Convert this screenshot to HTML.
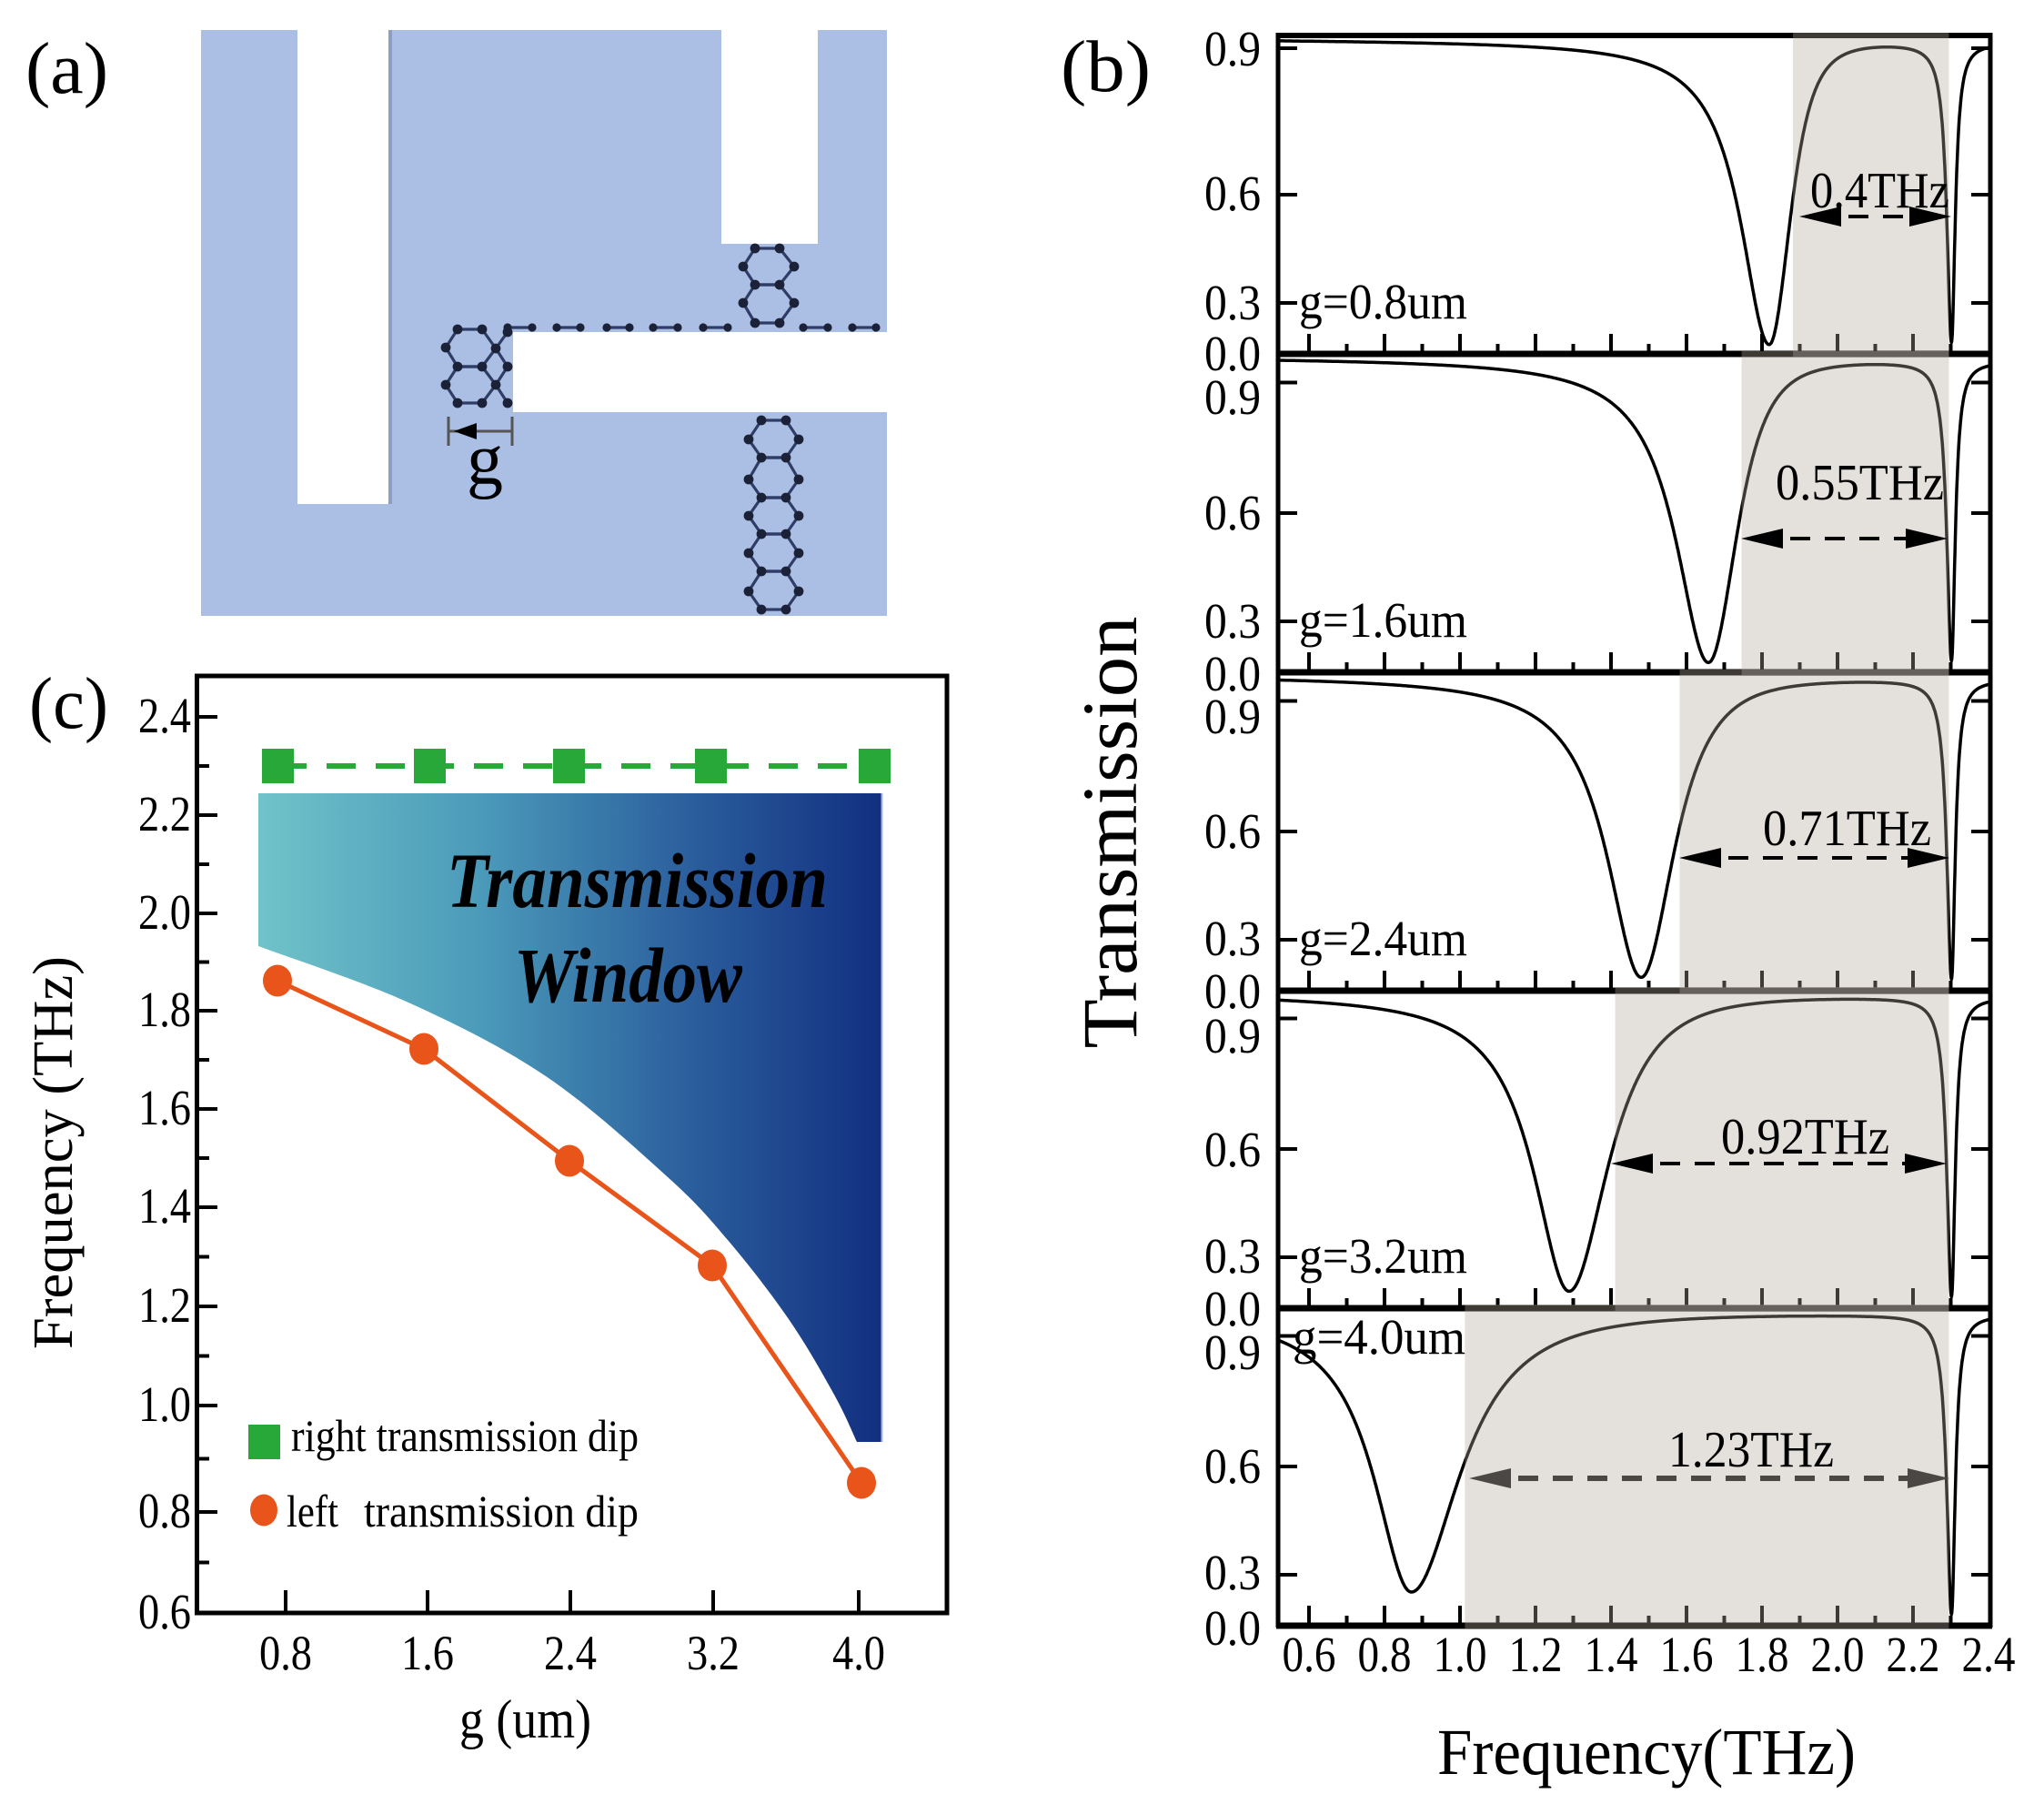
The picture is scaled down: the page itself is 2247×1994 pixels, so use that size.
<!DOCTYPE html>
<html><head><meta charset="utf-8">
<style>
html,body{margin:0;padding:0;background:#fff;}
svg{display:block;}
text{font-family:"Liberation Serif","Times New Roman",serif;fill:#000;}
</style></head>
<body>
<svg id="s" xmlns="http://www.w3.org/2000/svg" width="2247" height="1994" viewBox="0 0 2247 1994">
<defs>
<linearGradient id="tw" x1="284" y1="0" x2="970" y2="0" gradientUnits="userSpaceOnUse">
 <stop offset="0" stop-color="#70c3c9"/>
 <stop offset="0.35" stop-color="#4b9bba"/>
 <stop offset="0.7" stop-color="#2a5d9c"/>
 <stop offset="1" stop-color="#122f80"/>
</linearGradient>
</defs>
<rect x="0" y="0" width="2247" height="1994" fill="#fff"/>

<!-- ===== Panel (a) ===== -->
<rect x="221" y="33" width="754" height="644" fill="#abbfe4"/>
<rect x="327" y="33" width="101" height="521" fill="#fff"/>
<rect x="427" y="33" width="4" height="521" fill="#8e9ec2"/>
<rect x="793" y="33" width="106" height="235" fill="#fff"/>
<rect x="564" y="365" width="411" height="88" fill="#fff"/>
<g id="hex"></g>
<!-- g marker -->
<line x1="493" y1="458" x2="493" y2="490" stroke="#555" stroke-width="3"/>
<line x1="563" y1="458" x2="563" y2="490" stroke="#555" stroke-width="3"/>
<line x1="493" y1="474" x2="563" y2="474" stroke="#555" stroke-width="3"/>
<polygon points="499,474 524,465 524,483" fill="#000"/>
<text x="533" y="532" font-size="80" text-anchor="middle">g</text>
<text x="28" y="102" font-size="80" textLength="91" lengthAdjust="spacingAndGlyphs">(a)</text>

<!-- ===== Panel (b) ===== -->
<text x="1166" y="100" font-size="80" textLength="99" lengthAdjust="spacingAndGlyphs">(b)</text>
<g id="bcurves"></g>
<g id="baxes"></g>
<g id="bshade"></g>
<g id="barrows"></g>

<!-- y tick labels panel b -->
<g font-size="55" text-anchor="end">
<text x="1386" y="72" textLength="62" lengthAdjust="spacingAndGlyphs">0.9</text>
<text x="1386" y="231" textLength="62" lengthAdjust="spacingAndGlyphs">0.6</text>
<text x="1386" y="351" textLength="62" lengthAdjust="spacingAndGlyphs">0.3</text>
<text x="1386" y="407" textLength="62" lengthAdjust="spacingAndGlyphs">0.0</text>

<text x="1386" y="455" textLength="62" lengthAdjust="spacingAndGlyphs">0.9</text>
<text x="1386" y="582" textLength="62" lengthAdjust="spacingAndGlyphs">0.6</text>
<text x="1386" y="701" textLength="62" lengthAdjust="spacingAndGlyphs">0.3</text>
<text x="1386" y="759" textLength="62" lengthAdjust="spacingAndGlyphs">0.0</text>

<text x="1386" y="806" textLength="62" lengthAdjust="spacingAndGlyphs">0.9</text>
<text x="1386" y="932" textLength="62" lengthAdjust="spacingAndGlyphs">0.6</text>
<text x="1386" y="1050" textLength="62" lengthAdjust="spacingAndGlyphs">0.3</text>
<text x="1386" y="1108" textLength="62" lengthAdjust="spacingAndGlyphs">0.0</text>

<text x="1386" y="1157" textLength="62" lengthAdjust="spacingAndGlyphs">0.9</text>
<text x="1386" y="1282" textLength="62" lengthAdjust="spacingAndGlyphs">0.6</text>
<text x="1386" y="1399" textLength="62" lengthAdjust="spacingAndGlyphs">0.3</text>
<text x="1386" y="1457" textLength="62" lengthAdjust="spacingAndGlyphs">0.0</text>

<text x="1386" y="1505" textLength="62" lengthAdjust="spacingAndGlyphs">0.9</text>
<text x="1386" y="1630" textLength="62" lengthAdjust="spacingAndGlyphs">0.6</text>
<text x="1386" y="1747" textLength="62" lengthAdjust="spacingAndGlyphs">0.3</text>
<text x="1386" y="1808" textLength="62" lengthAdjust="spacingAndGlyphs">0.0</text>
</g>

<!-- x tick labels panel b -->
<g font-size="55" text-anchor="middle">
<text x="1439" y="1837" textLength="59" lengthAdjust="spacingAndGlyphs">0.6</text>
<text x="1522" y="1837" textLength="59" lengthAdjust="spacingAndGlyphs">0.8</text>
<text x="1605" y="1837" textLength="59" lengthAdjust="spacingAndGlyphs">1.0</text>
<text x="1688" y="1837" textLength="59" lengthAdjust="spacingAndGlyphs">1.2</text>
<text x="1771" y="1837" textLength="59" lengthAdjust="spacingAndGlyphs">1.4</text>
<text x="1854" y="1837" textLength="59" lengthAdjust="spacingAndGlyphs">1.6</text>
<text x="1937" y="1837" textLength="59" lengthAdjust="spacingAndGlyphs">1.8</text>
<text x="2020" y="1837" textLength="59" lengthAdjust="spacingAndGlyphs">2.0</text>
<text x="2103" y="1837" textLength="59" lengthAdjust="spacingAndGlyphs">2.2</text>
<text x="2186" y="1837" textLength="59" lengthAdjust="spacingAndGlyphs">2.4</text>
</g>

<!-- panel labels -->
<g font-size="55">
<text x="1428" y="350" textLength="185" lengthAdjust="spacingAndGlyphs">g=0.8um</text>
<text x="1428" y="700" textLength="185" lengthAdjust="spacingAndGlyphs">g=1.6um</text>
<text x="1428" y="1050" textLength="185" lengthAdjust="spacingAndGlyphs">g=2.4um</text>
<text x="1428" y="1399" textLength="185" lengthAdjust="spacingAndGlyphs">g=3.2um</text>
<text x="1421" y="1488" textLength="190" lengthAdjust="spacingAndGlyphs">g=4.0um</text>
</g>
<!-- width labels -->
<g font-size="56">
<text x="1990" y="228" textLength="153" lengthAdjust="spacingAndGlyphs">0.4THz</text>
<text x="1952" y="549" textLength="185" lengthAdjust="spacingAndGlyphs">0.55THz</text>
<text x="1938" y="929" textLength="185" lengthAdjust="spacingAndGlyphs">0.71THz</text>
<text x="1892" y="1268" textLength="185" lengthAdjust="spacingAndGlyphs">0.92THz</text>
<text x="1834" y="1612" textLength="182" lengthAdjust="spacingAndGlyphs" fill="#222">1.23THz</text>
</g>
<text x="1580" y="1950" font-size="72" textLength="460" lengthAdjust="spacingAndGlyphs">Frequency(THz)</text>
<text transform="translate(1249,915) rotate(-90)" font-size="86" text-anchor="middle" textLength="475" lengthAdjust="spacingAndGlyphs">Transmission</text>

<!-- ===== Panel (c) ===== -->
<text x="32" y="800" font-size="80" textLength="87" lengthAdjust="spacingAndGlyphs">(c)</text>
<path id="gradshape" d="M284 872 L970 872 L970 1585 L942 1585 Z" fill="url(#tw)"/>
<line x1="969.5" y1="872" x2="969.5" y2="1585" stroke="#a9b6da" stroke-width="2"/>
<text x="491" y="997" font-size="86" font-weight="bold" font-style="italic" textLength="419" lengthAdjust="spacingAndGlyphs">Transmission</text>
<text x="565" y="1101" font-size="86" font-weight="bold" font-style="italic" textLength="251" lengthAdjust="spacingAndGlyphs">Window</text>
<!-- green dashed -->
<line x1="305" y1="842" x2="962" y2="842" stroke="#27a839" stroke-width="6" stroke-dasharray="32 22"/>
<g fill="#27a839">
<rect x="288" y="823" width="35" height="38"/>
<rect x="455" y="823" width="35" height="38"/>
<rect x="608" y="823" width="35" height="38"/>
<rect x="764" y="823" width="35" height="38"/>
<rect x="944" y="823" width="35" height="38"/>
</g>
<polyline points="305,1078 466,1153 626,1276 783,1391 947,1630" fill="none" stroke="#e8541a" stroke-width="5" stroke-linejoin="round"/>
<g fill="#e8541a">
<ellipse cx="305" cy="1078" rx="16" ry="17.5"/>
<ellipse cx="466" cy="1153" rx="16" ry="17.5"/>
<ellipse cx="626" cy="1276" rx="16" ry="17.5"/>
<ellipse cx="783" cy="1391" rx="16" ry="17.5"/>
<ellipse cx="947" cy="1630" rx="16" ry="17.5"/>
</g>
<!-- legend -->
<rect x="273" y="1566" width="35" height="38" fill="#27a839"/>
<text x="320" y="1595" font-size="50" textLength="382" lengthAdjust="spacingAndGlyphs">right transmission dip</text>
<ellipse cx="290" cy="1660" rx="15" ry="17.5" fill="#e8541a"/>
<text x="315" y="1678" font-size="50" textLength="57" lengthAdjust="spacingAndGlyphs">left</text>
<text x="400" y="1678" font-size="50" textLength="302" lengthAdjust="spacingAndGlyphs">transmission dip</text>
<!-- frame c -->
<g id="caxes"></g>
<rect x="216.5" y="743" width="824.5" height="1030" fill="none" stroke="#000" stroke-width="5"/>
<g font-size="55" text-anchor="end">
<text x="210" y="805" textLength="58" lengthAdjust="spacingAndGlyphs">2.4</text>
<text x="210" y="913" textLength="58" lengthAdjust="spacingAndGlyphs">2.2</text>
<text x="210" y="1021" textLength="58" lengthAdjust="spacingAndGlyphs">2.0</text>
<text x="210" y="1128" textLength="58" lengthAdjust="spacingAndGlyphs">1.8</text>
<text x="210" y="1236" textLength="58" lengthAdjust="spacingAndGlyphs">1.6</text>
<text x="210" y="1344" textLength="58" lengthAdjust="spacingAndGlyphs">1.4</text>
<text x="210" y="1453" textLength="58" lengthAdjust="spacingAndGlyphs">1.2</text>
<text x="210" y="1562" textLength="58" lengthAdjust="spacingAndGlyphs">1.0</text>
<text x="210" y="1679" textLength="58" lengthAdjust="spacingAndGlyphs">0.8</text>
<text x="210" y="1790" textLength="58" lengthAdjust="spacingAndGlyphs">0.6</text>
</g>
<g font-size="54" text-anchor="middle">
<text x="314" y="1835" textLength="58" lengthAdjust="spacingAndGlyphs">0.8</text>
<text x="470" y="1835" textLength="58" lengthAdjust="spacingAndGlyphs">1.6</text>
<text x="627" y="1835" textLength="58" lengthAdjust="spacingAndGlyphs">2.4</text>
<text x="784" y="1835" textLength="58" lengthAdjust="spacingAndGlyphs">3.2</text>
<text x="944" y="1835" textLength="58" lengthAdjust="spacingAndGlyphs">4.0</text>
</g>
<text x="505" y="1910" font-size="60" textLength="145" lengthAdjust="spacingAndGlyphs">g (um)</text>
<text transform="translate(79,1267) rotate(-90)" font-size="62" text-anchor="middle" textLength="432" lengthAdjust="spacingAndGlyphs">Frequency (THz)</text>
</svg>

<script>
(function(){
const NS='http://www.w3.org/2000/svg';
function el(tag,a,p){const e=document.createElementNS(NS,tag);for(const k in a)e.setAttribute(k,a[k]);p.appendChild(e);return e;}
function cr(pts){let d='M'+pts[0][0]+' '+pts[0][1];for(let i=0;i<pts.length-1;i++){const p0=pts[i-1]||pts[i],p1=pts[i],p2=pts[i+1],p3=pts[i+2]||p2;const c1=[p1[0]+(p2[0]-p0[0])/6,p1[1]+(p2[1]-p0[1])/6],c2=[p2[0]-(p3[0]-p1[0])/6,p2[1]-(p3[1]-p1[1])/6];d+='C'+c1[0].toFixed(1)+' '+c1[1].toFixed(1)+' '+c2[0].toFixed(1)+' '+c2[1].toFixed(1)+' '+p2[0]+' '+p2[1];}return d;}

/* ---- panel a hexagons ---- */
const gH=document.getElementById('hex');
const L=[],D=[],Ds=[];
function hexes(pairYs,sideYs,xa,xb,xl,xr){
  for(let i=0;i<sideYs.length;i++){
    const yA=pairYs[i],yB=pairYs[i+1],yS=sideYs[i];
    L.push([[xa,yA],[xb,yA]],[[xb,yA],[xr,yS]],[[xr,yS],[xb,yB]],[[xb,yB],[xa,yB]],[[xa,yB],[xl,yS]],[[xl,yS],[xa,yA]]);
  }
  pairYs.forEach(y=>{D.push([xa,y],[xb,y]);});
  sideYs.forEach(y=>{D.push([xl,y],[xr,y]);});
}
hexes([273,313,355],[293,333],830,857,817,873);
hexes([462,503,547,587,628,670],[483,527,567,608,650],837,864,823,878);
const lc=[[503,362],[530,362],[490,382],[545,383],[503,403],[530,403],[558,403],[490,423],[545,423],[503,443],[530,443],[558,443],[558,365]];
function P(i){return lc[i];}
[[0,1],[1,3],[3,5],[5,4],[4,2],[2,0],[4,5],[5,8],[8,10],[10,9],[9,7],[7,4],[3,12],[3,6],[8,6],[8,11]].forEach(e=>L.push([P(e[0]),P(e[1])]));
lc.forEach(p=>D.push(p));
const ex=[558,585,612,638,667,692,718,745,773,800,883,910,937,963];
for(let i=0;i<ex.length;i+=2){L.push([[ex[i],360],[ex[i+1],360]]);}
ex.forEach(x=>Ds.push([x,360]));
L.forEach(s=>el('line',{x1:s[0][0],y1:s[0][1],x2:s[1][0],y2:s[1][1],stroke:'#2f3c66','stroke-width':3.2},gH));
D.forEach(p=>el('circle',{cx:p[0],cy:p[1],r:5.4,fill:'#1b2238'},gH));
Ds.forEach(p=>el('circle',{cx:p[0],cy:p[1],r:4.6,fill:'#1b2238'},gH));

/* ---- panel b ---- */
const gC=document.getElementById('bcurves'),gA=document.getElementById('baxes'),gS=document.getElementById('bshade'),gR=document.getElementById('barrows');
function X(f){return 1439+(f-0.6)*415;}
const PN=[
 {t:39,f1:1.819,A:.95,wL:.092,wR:.072,c:.3,s0:1.882,y9:.04,ar:[1978,2145,238,'#000',4]},
 {t:389,f1:1.658,A:.95,wL:.105,wR:.095,c:.25,s0:1.746,y9:.09,ar:[1914,2141,592,'#000',4]},
 {t:739,f1:1.48,A:.94,wL:.11,wR:.107,c:.13,s0:1.582,y9:.09,ar:[1846,2143,943,'#000',4]},
 {t:1088,f1:1.289,A:.93,wL:.115,wR:.125,c:.1,s0:1.411,y9:.09,ar:[1771,2140,1279,'#000',4]},
 {t:1437,f1:.871,A:.88,wL:.12,wR:.155,c:.05,s0:1.013,y9:.09,ar:[1615,2143,1625,'#4a4744',6]}
];
const H=350,F0=0.518,F1=2.4;
function hv(p,f){
  const d=f-p.f1;let v;
  if(d<0){const x=d/p.wL;v=p.A/(1+x*x);}else{const x=d/p.wR;v=p.A/(1+x*x+p.c*x*x*x*x);}
  const d2=f-2.302;let v2;
  if(d2<0){const x=d2/.015;v2=.94/(1+x*x);}else{const x=d2/.012;v2=.94/(1+x*x);}
  let r=0.012+0.006*(f-0.52)+v+v2; if(r>0.975)r=0.975; return r;
}
el('line',{x1:1403,x2:2190,y1:39,y2:39,stroke:'#000','stroke-width':6},gA);
el('line',{x1:1405,x2:1405,y1:36,y2:1789,stroke:'#000','stroke-width':5},gA);
el('line',{x1:2188,x2:2188,y1:36,y2:1789,stroke:'#000','stroke-width':5},gA);
PN.forEach(p=>{
  let d='';
  for(let f=F0;f<=F1+1e-9;f+=0.001){const x=X(f),y=p.t+hv(p,f)*H;d+=(d?'L':'M')+x.toFixed(1)+' '+y.toFixed(1);}
  el('path',{d:d,fill:'none',stroke:'#000','stroke-width':3.5,'stroke-linejoin':'round'},gC);
  const yb=p.t+H;
  el('line',{x1:1403,x2:2190,y1:yb,y2:yb,stroke:'#000','stroke-width':7},gA);
  [p.y9,.5,.84].forEach(fr=>{const y=p.t+fr*H;
    el('line',{x1:1405,x2:1426,y1:y,y2:y,stroke:'#000','stroke-width':4},gA);
    el('line',{x1:2167,x2:2188,y1:y,y2:y,stroke:'#000','stroke-width':4},gA);});
  for(let k=0;k<=17;k++){const x=X(0.6+0.1*k);const Ln=(k%2)?11:22;
    el('line',{x1:x,x2:x,y1:yb,y2:yb-Ln,stroke:'#000','stroke-width':4},gA);}
  const xs0=X(p.s0),xs1=X(2.295);
  el('rect',{x:xs0,y:p.t-3,width:xs1-xs0,height:H+6,fill:'rgb(178,169,158)','fill-opacity':0.35},gS);
  const a=p.ar,x0=a[0],x1=a[1],y=a[2],col=a[3],w=a[4],AL=46,hh=11;
  el('line',{x1:x0+AL,x2:x1-AL,y1:y,y2:y,stroke:col,'stroke-width':w,'stroke-dasharray':'22 16','stroke-dashoffset':'-8'},gR);
  el('polygon',{points:x0+','+y+' '+(x0+AL)+','+(y-hh)+' '+(x0+AL)+','+(y+hh),fill:col},gR);
  el('polygon',{points:x1+','+y+' '+(x1-AL)+','+(y-hh)+' '+(x1-AL)+','+(y+hh),fill:col},gR);
});

/* ---- panel c ---- */
const gs=document.getElementById('gradshape');
const bnd=cr([[942,1585],[917,1533],[867,1450],[800,1363],[733,1293],[600,1183],[449,1102],[284,1040]]);
gs.setAttribute('d','M284 872 L970 872 L970 1585 '+bnd.replace(/^M/,'L')+' Z');
const gc=document.getElementById('caxes');
const maj=[788,896,1004,1111,1219,1327,1436,1545,1662,1773];
maj.forEach(y=>el('line',{x1:216,x2:239,y1:y,y2:y,stroke:'#000','stroke-width':4},gc));
for(let i=0;i<maj.length-1;i++){const y=(maj[i]+maj[i+1])/2;el('line',{x1:216,x2:230,y1:y,y2:y,stroke:'#000','stroke-width':4},gc);}
[314,470,627,784,944].forEach(x=>el('line',{x1:x,x2:x,y1:1773,y2:1748,stroke:'#000','stroke-width':4},gc));
})();
</script>
</body></html>
